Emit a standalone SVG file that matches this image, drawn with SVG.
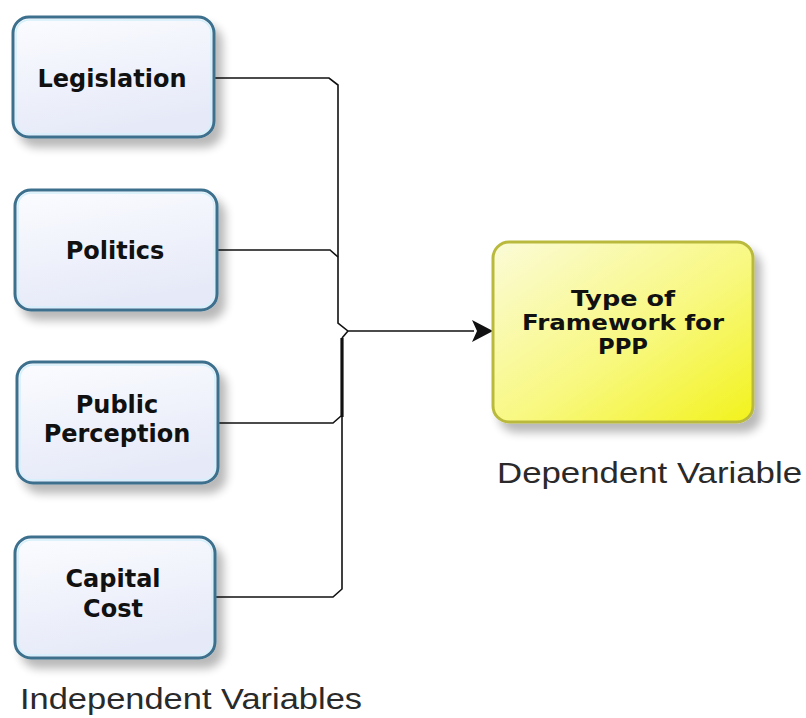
<svg xmlns="http://www.w3.org/2000/svg" width="806" height="718" viewBox="0 0 806 718">
<defs>
  <linearGradient id="blueFill" x1="0" y1="0" x2="0.3" y2="1">
    <stop offset="0" stop-color="#fbfcff"/>
    <stop offset="1" stop-color="#e6eaf8"/>
  </linearGradient>
  <linearGradient id="yellowFill" x1="0" y1="0" x2="1" y2="1">
    <stop offset="0" stop-color="#fbfbd8"/>
    <stop offset="0.55" stop-color="#f8f880"/>
    <stop offset="1" stop-color="#f2f21c"/>
  </linearGradient>
  <filter id="shadow" x="-20%" y="-20%" width="150%" height="160%">
    <feGaussianBlur in="SourceAlpha" stdDeviation="5"/>
    <feOffset dx="7" dy="9" result="b"/>
    <feComponentTransfer><feFuncA type="linear" slope="0.28"/></feComponentTransfer>
    <feMerge><feMergeNode/><feMergeNode in="SourceGraphic"/></feMerge>
  </filter>
</defs>
<style>
  .ind { fill: url(#blueFill); stroke: #3c6f8d; stroke-width: 3; filter: url(#shadow); }
  .inner { fill: none; stroke: #d4f0fa; stroke-width: 1.5; }
  .dep { fill: url(#yellowFill); stroke: #b9ba3c; stroke-width: 3; filter: url(#shadow); }
  .lbl { font-family: "DejaVu Sans", Verdana, sans-serif; font-weight: bold; font-size: 24px; fill: #111; text-anchor: middle; }
  .lbl2 { font-family: "DejaVu Sans", Verdana, sans-serif; font-weight: bold; font-size: 21px; fill: #111; text-anchor: middle; }
  .cap { font-family: "Liberation Sans", Arial, sans-serif; font-size: 29px; fill: #2a2a2a; }
  .wire { fill: none; stroke: #111; stroke-width: 1.6; }
  .thick { fill: none; stroke: #111; stroke-width: 3.2; }
</style>
<rect width="806" height="718" fill="#ffffff"/>

<g id="connectors">
  <path class="wire" d="M213,78 H329 L338,85 V323 L348,331 H474"/>
  <path class="wire" d="M217,250 H330 L338,257"/>
  <path class="wire" d="M348,331 L342,338"/>
  <path class="thick" d="M342,338 V417"/>
  <path class="wire" d="M218,423 H333 L341,416"/>
  <path class="wire" d="M342,416 V589 L333,597 H215"/>
  <path d="M493,331 L472,320 L477,331 L472,342 Z" fill="#111"/>
</g>

<g id="legislation">
  <rect class="ind" x="13" y="17" width="201" height="120" rx="16"/>
  <rect class="inner" x="16" y="20" width="195" height="114" rx="13"/>
  <text class="lbl" x="112" y="87">Legislation</text>
</g>

<g id="politics">
  <rect class="ind" x="15" y="190" width="202" height="120" rx="16"/>
  <rect class="inner" x="18" y="193" width="196" height="114" rx="13"/>
  <text class="lbl" x="115" y="259">Politics</text>
</g>

<g id="public-perception">
  <rect class="ind" x="17" y="362" width="201" height="121" rx="16"/>
  <rect class="inner" x="20" y="365" width="195" height="115" rx="13"/>
  <text class="lbl" x="117" y="413">Public</text>
  <text class="lbl" x="117" y="442">Perception</text>
</g>

<g id="capital-cost">
  <rect class="ind" x="15" y="537" width="200" height="121" rx="16"/>
  <rect class="inner" x="18" y="540" width="194" height="115" rx="13"/>
  <text class="lbl" x="113" y="587">Capital</text>
  <text class="lbl" x="113" y="617">Cost</text>
</g>

<g id="type-of-framework">
  <rect class="dep" x="493" y="242" width="260" height="180" rx="16"/>
  <text class="lbl2" x="623" y="306" textLength="104" lengthAdjust="spacingAndGlyphs">Type of</text>
  <text class="lbl2" x="623" y="330" textLength="202" lengthAdjust="spacingAndGlyphs">Framework for</text>
  <text class="lbl2" x="623" y="354" textLength="50" lengthAdjust="spacingAndGlyphs">PPP</text>
</g>

<g id="labels">
  <text class="cap" x="497" y="483" textLength="305" lengthAdjust="spacingAndGlyphs">Dependent Variable</text>
  <text class="cap" x="20" y="709" textLength="342" lengthAdjust="spacingAndGlyphs">Independent Variables</text>
</g>
</svg>
